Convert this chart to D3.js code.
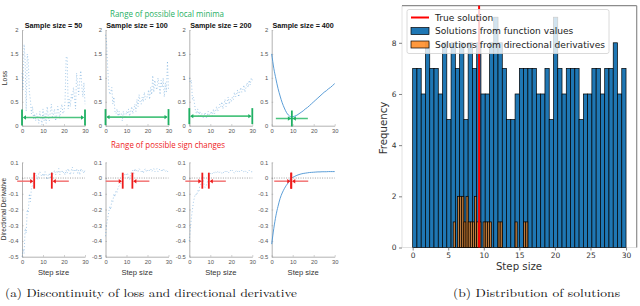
<!DOCTYPE html>
<html>
<head>
<meta charset="utf-8">
<script src="https://cdn.jsdelivr.net/npm/d3@7/dist/d3.min.js"></script>
<style>
  body { margin: 0; background: #fff; }
  svg { display: block; }
</style>
</head>
<body>
<div id="chart"></div>
<script>
// ---- data ----

const sampleSizes = [50, 100, 200, 400];

// step sizes the loss / derivative were sampled at
const stepFine = [0,0.5,1,1.5,2,2.5,3,3.5,4,4.5,
                  5,5.5,6,6.5,7,7.5,8,8.5,9,9.5,
                  10,10.5,11,11.5,12,12.5,13,13.5,14,14.5,
                  15,15.5,16,16.5,17,17.5,18,18.5,19,19.5,
                  20,20.5,21,21.5,22,22.5,23,23.5,24,24.5,
                  25,25.5,26,26.5,27,27.5,28,28.5,29,29.5,
                  30];
const stepCoarse = [0,1,2,3,4,5,6,7,8,9,10,11,12,13,14,15,16,17,18,19,20,21,22,23,24,25,26,27,28,29,30];

const loss50 = [1.1,0.75,1.7,1.35,0.3,1.5,1.35,0.7,0.55,0.25,
                0.4,0.15,0.25,0.1,0.25,0.2,0.05,0.3,0.15,0.02,
                0.35,0.1,0.25,0.05,0.4,0.2,0.1,0.3,0.45,0.15,
                0.25,0.35,0.1,0.2,0.4,0.3,0.15,0.35,0.45,0.25,
                0.3,0.5,1.42,1.45,0.35,0.55,0.4,0.65,0.55,0.8,
                0.6,0.35,1.1,0.85,0.65,0.95,1.15,0.8,0.6,0.9,
                0.45];
const loss100 = [1.9,1.75,1.25,0.85,0.65,0.7,0.8,0.45,0.6,0.3,
                 0.25,0.35,0.2,0.3,0.15,0.25,0.1,0.3,0.2,0.15,
                 0.3,0.25,0.35,0.2,0.3,0.4,0.25,0.35,0.45,0.3,
                 0.55,0.4,0.65,0.5,0.45,0.6,0.5,0.7,0.55,0.6,
                 0.6,0.75,0.55,0.8,0.65,1.05,0.7,0.95,0.8,0.75,
                 1.0,0.85,0.65,0.95,0.8,1.0,0.6,0.9,0.7,1.35,
                 0.75];
const loss200 = [1.0,0.9,0.95,0.55,0.6,0.45,0.3,0.25,0.35,0.2,
                 0.3,0.2,0.25,0.15,0.2,0.28,0.15,0.2,0.3,0.22,
                 0.25,0.3,0.2,0.35,0.25,0.3,0.4,0.3,0.35,0.45,
                 0.4,0.5,0.35,0.45,0.55,0.4,0.5,0.6,0.45,0.55,
                 0.5,0.6,0.55,0.7,0.6,0.65,0.75,0.6,0.7,0.8,
                 0.7,0.75,0.85,0.7,0.8,0.9,0.8,0.95,0.85,1.0,
                 0.95];
const loss400 = [1.5,1.2,0.98,0.78,0.62,0.48,0.37,0.28,0.22,0.19,0.19,0.2,0.22,0.25,0.28,0.31,
                 0.35,0.38,0.42,0.46,0.5,0.54,0.58,0.62,0.66,0.7,0.73,0.77,0.8,0.84,0.88];

const deriv50 = [-0.5,-0.45,-0.48,-0.32,-0.35,-0.2,-0.22,-0.1,-0.15,-0.06,
                 -0.05,-0.02,0.02,0.03,0.01,-0.01,0.03,0.04,0.02,0.01,
                 0.03,0.01,0.04,0.02,-0.01,0.02,0.03,-0.005,0.04,0.02,
                 0.03,0.05,0.02,0.04,0.03,0.06,0.02,0.04,0.05,0.03,
                 0.04,0.02,0.05,0.03,0.06,0.04,0.02,0.05,0.07,0.03,
                 0.05,0.04,0.06,0.03,0.05,0.02,0.06,0.04,0.05,0.03,
                 0.05];
const deriv100 = [-0.37,-0.3,-0.26,-0.22,-0.18,-0.2,-0.14,-0.15,-0.1,-0.12,
                  -0.08,-0.09,-0.06,-0.05,-0.04,-0.03,-0.02,0.01,0.02,0.03,
                  0.02,0.03,0.0,-0.01,0.03,0.04,0.05,0.03,0.06,0.04,
                  0.05,0.04,0.06,0.05,0.04,0.05,0.03,0.05,0.06,0.04,
                  0.05,0.04,0.05,0.06,0.04,0.05,0.06,0.04,0.05,0.06,
                  0.04,0.05,0.06,0.05,0.04,0.06,0.05,0.04,0.05,0.04,
                  0.05];
const deriv200 = [-0.4,-0.33,-0.25,-0.2,-0.15,-0.12,-0.1,-0.11,-0.08,-0.09,
                  -0.05,-0.04,-0.01,0.01,-0.04,-0.06,-0.05,-0.03,-0.01,0.02,
                  0.03,0.02,0.03,0.04,0.03,0.04,0.03,0.04,0.03,0.04,
                  0.04,0.03,0.04,0.03,0.04,0.05,0.04,0.03,0.04,0.05,
                  0.04,0.05,0.04,0.03,0.04,0.05,0.04,0.05,0.04,0.04,
                  0.05,0.04,0.04,0.05,0.04,0.03,0.04,0.05,0.04,0.04,
                  0.04];
const deriv400 = [-0.42,-0.32,-0.24,-0.18,-0.13,-0.095,-0.068,-0.046,-0.028,-0.005,0.004,
                  0.011,0.017,0.022,0.026,0.029,0.031,0.033,0.035,0.036,0.037,
                  0.038,0.039,0.039,0.04,0.04,0.04,0.041,0.041,0.041,0.041];

const lossSeries = [loss50, loss100, loss200, loss400];
const derivSeries = [deriv50, deriv100, deriv200, deriv400];
const seriesSteps = [stepFine, stepFine, stepFine, stepCoarse];

// ranges of possible local minima [min, max, level] and sign changes [min, max, level]
const minimaRanges = [[0, 30, 0.17], [0, 30, 0.18], [0, 30, 0.2], [9.6, 9.6, 0.15]];
const signRanges = [[5.8, 14.2, -0.02], [8.2, 12.8, -0.02], [6.2, 9.3, -0.02], [9.3, 9.3, -0.02]];

const lossTicks = [0, 0.5, 1, 1.5, 2];
const derivTicks = [-0.5, -0.4, -0.3, -0.2, -0.1, 0, 0.1];
const stepTicks = [0, 10, 20, 30];

// histogram (b)
const trueSolution = 9.34;
const fvBinStart = 0, fvBinWidth = 0.6;
const fvCounts = [7,7,6,8,7,7,6,8,5,8,
                  7,8,5,8,7,8,6,6,8,9,
                  8,7,5,5,6,7,7,7,7,6,
                  6,7,5,9,7,6,7,7,7,5,
                  6,6,7,7,6,7,7,8,6,7];
const ddBinStart = 5.7, ddBinWidth = 0.3;
const ddCounts = [1,0,2,2,2,1,2,1,1,1,
                  2,1,1,0,1,1,1,1,0,0,
                  0,1,1,0,0,0,0,0,0,1,
                  0,0,0,1,1];
const histXTicks = [0, 5, 10, 15, 20, 25, 30];
const histYTicks = [0, 2, 4, 6, 8];
const legendLabels = ['True solution', 'Solutions from function values', 'Solutions from directional derivatives'];

// ---- drawing ----

const svg = d3.select('#chart').append('svg')
    .attr('width', 640)
    .attr('height', 306)
    .style('background', '#fff');

const sans = 'Liberation Sans, Arial, sans-serif';
const lineBlue = '#4a93d3';
const green = '#1fb063';
const greenLight = '#4cc47f';
const red = '#ee1c1c';
const redLight = '#f26a6a';

const panelX = [22, 105.5, 189.3, 271.7];
const panelW = 63;

function styleAxis(g) {
    g.select('.domain').attr('stroke', '#a0a0a0').attr('stroke-width', 0.8);
    g.selectAll('.tick line').attr('stroke', '#a0a0a0').attr('stroke-width', 0.6);
    g.selectAll('.tick text').attr('fill', '#555').attr('font-size', 5.8).attr('font-family', sans);
}

function arrowHead(g, tipX, y, dir, color) {
    // dir = +1 points right, -1 points left
    g.append('path')
        .attr('d', `M${tipX},${y} L${tipX - dir * 3.2},${y - 2.2} L${tipX - dir * 3.2},${y + 2.2} Z`)
        .attr('fill', color);
}

sampleSizes.forEach((n, i) => {
    const x = d3.scaleLinear().domain([0, 30]).range([panelX[i], panelX[i] + panelW]);
    const yL = d3.scaleLinear().domain([0, 2]).range([125.7, 30]);
    const yD = d3.scaleLinear().domain([-0.5, 0.1]).range([256.7, 162.3]);
    const noisy = i < 3;

    // --- loss subplot ---
    svg.append('g')
        .attr('transform', `translate(0,${yL(0)})`)
        .call(d3.axisBottom(x).tickValues(stepTicks).tickSize(-1.5).tickSizeOuter(0).tickPadding(3))
        .call(styleAxis);
    svg.append('g')
        .attr('transform', `translate(${x(0)},0)`)
        .call(d3.axisLeft(yL).tickValues(lossTicks).tickSize(-1.5).tickSizeOuter(0).tickPadding(3.5).tickFormat(d => d))
        .call(styleAxis);

    const lossLine = d3.line()
        .x((d, j) => x(seriesSteps[i][j]))
        .y(d => yL(d));
    if (!noisy) lossLine.curve(d3.curveMonotoneX);

    svg.append('path')
        .datum(lossSeries[i])
        .attr('d', lossLine)
        .attr('fill', 'none')
        .attr('stroke', lineBlue)
        .attr('stroke-width', noisy ? 0.7 : 0.9)
        .attr('stroke-opacity', noisy ? 0.7 : 1)
        .attr('stroke-dasharray', noisy ? '1,2.2' : null);

    svg.append('text')
        .attr('x', x(15))
        .attr('y', 27.5)
        .attr('text-anchor', 'middle')
        .attr('font-family', sans)
        .attr('font-weight', 'bold')
        .attr('font-size', 7.2)
        .attr('fill', '#111')
        .text(`Sample size = ${n}`);

    // green range of local minima
    const mr = minimaRanges[i];
    const gy = yL(mr[2]);
    const gG = svg.append('g');
    if (mr[0] !== mr[1]) {
        gG.append('line').attr('x1', x(mr[0]) + 2).attr('x2', x(mr[1]) - 2).attr('y1', gy).attr('y2', gy)
            .attr('stroke', greenLight).attr('stroke-width', 1.6);
        arrowHead(gG, x(mr[0]) + 0.8, gy, -1, green);
        arrowHead(gG, x(mr[1]) - 0.8, gy, 1, green);
        [mr[0], mr[1]].forEach(v => {
            gG.append('line').attr('x1', x(v)).attr('x2', x(v)).attr('y1', gy - 8).attr('y2', gy + 8)
                .attr('stroke', green).attr('stroke-width', 1.8);
        });
    } else {
        gG.append('line').attr('x1', x(mr[0]) - 16).attr('x2', x(mr[0]) + 16).attr('y1', gy).attr('y2', gy)
            .attr('stroke', greenLight).attr('stroke-width', 1.4);
        arrowHead(gG, x(mr[0]) - 0.8, gy, 1, green);
        arrowHead(gG, x(mr[0]) + 0.8, gy, -1, green);
        gG.append('line').attr('x1', x(mr[0])).attr('x2', x(mr[0])).attr('y1', gy - 8).attr('y2', gy + 8)
            .attr('stroke', green).attr('stroke-width', 1.8);
    }

    // --- directional derivative subplot ---
    svg.append('g')
        .attr('transform', `translate(0,${yD(-0.5)})`)
        .call(d3.axisBottom(x).tickValues(stepTicks).tickSize(-1.5).tickSizeOuter(0).tickPadding(3))
        .call(styleAxis);
    svg.append('g')
        .attr('transform', `translate(${x(0)},0)`)
        .call(d3.axisLeft(yD).tickValues(derivTicks).tickSize(-1.5).tickSizeOuter(0).tickPadding(3.5).tickFormat(d => d))
        .call(styleAxis);

    // zero reference line
    svg.append('line')
        .attr('x1', x(0)).attr('x2', x(30))
        .attr('y1', yD(0)).attr('y2', yD(0))
        .attr('stroke', '#777')
        .attr('stroke-width', 0.7)
        .attr('stroke-dasharray', '1,1.4');

    const derivLine = d3.line()
        .x((d, j) => x(seriesSteps[i][j]))
        .y(d => yD(d));
    if (!noisy) derivLine.curve(d3.curveMonotoneX);

    svg.append('path')
        .datum(derivSeries[i])
        .attr('d', derivLine)
        .attr('fill', 'none')
        .attr('stroke', lineBlue)
        .attr('stroke-width', noisy ? 0.7 : 0.9)
        .attr('stroke-opacity', noisy ? 0.7 : 1)
        .attr('stroke-dasharray', noisy ? '1,2.2' : null);

    // red range of sign changes
    const sr = signRanges[i];
    const ry = yD(sr[2]);
    const rG = svg.append('g');
    rG.append('line').attr('x1', x(sr[0]) - 17).attr('x2', x(sr[0]) - 2).attr('y1', ry).attr('y2', ry)
        .attr('stroke', redLight).attr('stroke-width', 1.4);
    rG.append('line').attr('x1', x(sr[1]) + 2).attr('x2', x(sr[1]) + 17).attr('y1', ry).attr('y2', ry)
        .attr('stroke', redLight).attr('stroke-width', 1.4);
    arrowHead(rG, x(sr[0]) - 0.8, ry, 1, red);
    arrowHead(rG, x(sr[1]) + 0.8, ry, -1, red);
    [sr[0], sr[1]].forEach(v => {
        rG.append('line').attr('x1', x(v)).attr('x2', x(v)).attr('y1', ry - 8.5).attr('y2', ry + 7.5)
            .attr('stroke', red).attr('stroke-width', 1.8);
    });

    svg.append('text')
        .attr('x', x(15))
        .attr('y', 274.5)
        .attr('text-anchor', 'middle')
        .attr('font-family', sans)
        .attr('font-size', 7.6)
        .attr('fill', '#333')
        .text('Step size');
});

// row labels and titles
svg.append('text')
    .attr('transform', 'translate(7,78) rotate(-90)')
    .attr('text-anchor', 'middle')
    .attr('font-family', sans).attr('font-size', 6.8).attr('fill', '#333')
    .text('Loss');
svg.append('text')
    .attr('transform', 'translate(5.5,209) rotate(-90)')
    .attr('text-anchor', 'middle')
    .attr('font-family', sans).attr('font-size', 6.6).attr('fill', '#333')
    .text('Directional Derivative');

svg.append('text')
    .attr('x', 110).attr('y', 16.5)
    .attr('font-family', 'Open Sans, sans-serif').attr('font-size', 8.6)
    .attr('fill', green)
    .attr('textLength', 114).attr('lengthAdjust', 'spacingAndGlyphs')
    .text('Range of possible local minima');
svg.append('text')
    .attr('x', 111).attr('y', 148)
    .attr('font-family', 'Open Sans, sans-serif').attr('font-size', 8.6)
    .attr('fill', red)
    .attr('textLength', 114).attr('lengthAdjust', 'spacingAndGlyphs')
    .text('Range of possible sign changes');

// ---- histogram (b) ----
const xH = d3.scaleLinear().domain([-1.5, 31.5]).range([402, 636.7]);
const yH = d3.scaleLinear().domain([0, 9.45]).range([247.5, 5.7]);
const hist = svg.append('g').attr('font-family', 'DejaVu Sans, sans-serif');

// frame
hist.append('line').attr('x1', xH(-1.5)).attr('x2', xH(-1.5)).attr('y1', yH(0)).attr('y2', yH(9.45))
    .attr('stroke', '#e2e2e2').attr('stroke-width', 1);
hist.append('line').attr('x1', xH(-1.5)).attr('x2', xH(31.5)).attr('y1', yH(0)).attr('y2', yH(0))
    .attr('stroke', '#e2e2e2').attr('stroke-width', 1);
hist.append('line').attr('x1', xH(-1.5)).attr('x2', xH(31.5)).attr('y1', yH(9.45)).attr('y2', yH(9.45))
    .attr('stroke', '#8c8c8c').attr('stroke-width', 1.2);
hist.append('line').attr('x1', xH(31.5)).attr('x2', xH(31.5)).attr('y1', yH(0)).attr('y2', yH(9.45))
    .attr('stroke', '#8c8c8c').attr('stroke-width', 1.2);

hist.selectAll('.fv-bar')
    .data(fvCounts)
    .join('rect')
    .classed('fv-bar', true)
    .attr('x', (d, i) => xH(fvBinStart + i * fvBinWidth))
    .attr('width', xH(fvBinWidth) - xH(0))
    .attr('y', d => yH(d))
    .attr('height', d => yH(0) - yH(d))
    .attr('fill', '#1f77b4')
    .attr('stroke', '#000')
    .attr('stroke-width', 0.7);

hist.selectAll('.dd-bar')
    .data(ddCounts)
    .join('rect')
    .classed('dd-bar', true)
    .attr('x', (d, i) => xH(ddBinStart + i * ddBinWidth))
    .attr('width', xH(ddBinWidth) - xH(0))
    .attr('y', d => yH(d))
    .attr('height', d => yH(0) - yH(d))
    .attr('fill', '#ff7f0e')
    .attr('fill-opacity', 0.7)
    .attr('stroke', '#000')
    .attr('stroke-width', d => d > 0 ? 0.7 : 0);

hist.append('line')
    .attr('x1', xH(trueSolution)).attr('x2', xH(trueSolution))
    .attr('y1', yH(0)).attr('y2', yH(9.45))
    .attr('stroke', 'red').attr('stroke-width', 2);

// ticks
const xAxisH = hist.append('g')
    .attr('transform', `translate(0,${yH(0)})`)
    .call(d3.axisBottom(xH).tickValues(histXTicks).tickSize(3).tickPadding(2.5));
const yAxisH = hist.append('g')
    .attr('transform', `translate(${xH(-1.5)},0)`)
    .call(d3.axisLeft(yH).tickValues(histYTicks).tickSize(3).tickPadding(2.5));
[xAxisH, yAxisH].forEach(g => {
    g.select('.domain').remove();
    g.selectAll('.tick line').attr('stroke', '#666').attr('stroke-width', 0.8);
    g.selectAll('.tick text').attr('fill', '#333').attr('font-size', 7.5).attr('font-family', 'DejaVu Sans, sans-serif');
});

hist.append('text')
    .attr('x', 519).attr('y', 270)
    .attr('text-anchor', 'middle')
    .attr('font-size', 10.2).attr('fill', '#333')
    .text('Step size');
hist.append('text')
    .attr('transform', 'translate(387,128) rotate(-90)')
    .attr('text-anchor', 'middle')
    .attr('font-size', 10.2).attr('fill', '#333')
    .text('Frequency');

// legend
const leg = hist.append('g');
leg.append('rect')
    .attr('x', 407).attr('y', 9.5).attr('width', 202).attr('height', 44).attr('rx', 2)
    .attr('fill', '#fff').attr('fill-opacity', 0.8)
    .attr('stroke', '#d0d0d0').attr('stroke-width', 0.8);
const legendY = [17.5, 31, 44.5];
leg.append('line').attr('x1', 411).attr('x2', 429).attr('y1', legendY[0]).attr('y2', legendY[0])
    .attr('stroke', 'red').attr('stroke-width', 2);
leg.append('rect').attr('x', 411).attr('y', legendY[1] - 3.5).attr('width', 18).attr('height', 7)
    .attr('fill', '#1f77b4').attr('stroke', '#000').attr('stroke-width', 0.7);
leg.append('rect').attr('x', 411).attr('y', legendY[2] - 3.5).attr('width', 18).attr('height', 7)
    .attr('fill', '#ff7f0e').attr('fill-opacity', 0.8).attr('stroke', '#000').attr('stroke-width', 0.7);
leg.selectAll('.leg-text')
    .data(legendLabels)
    .join('text')
    .classed('leg-text', true)
    .attr('x', 435)
    .attr('y', (d, i) => legendY[i])
    .attr('dy', '0.35em')
    .attr('font-size', 9.1)
    .attr('fill', '#222')
    .text(d => d);

// captions
const serif = 'Latin Modern Roman, CMU Serif, DejaVu Serif, serif';
svg.append('text')
    .attr('x', 5).attr('y', 297)
    .attr('font-family', serif).attr('font-size', 11.5).attr('fill', '#111')
    .attr('textLength', 292).attr('lengthAdjust', 'spacingAndGlyphs')
    .text('(a) Discontinuity of loss and directional derivative');
svg.append('text')
    .attr('x', 453).attr('y', 297)
    .attr('font-family', serif).attr('font-size', 11.5).attr('fill', '#111')
    .attr('textLength', 167).attr('lengthAdjust', 'spacingAndGlyphs')
    .text('(b) Distribution of solutions');
</script>
</body>
</html>
